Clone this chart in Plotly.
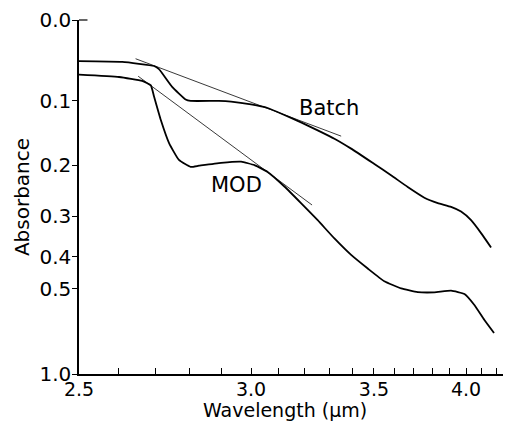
import numpy as np
import plotly.graph_objects as go

# ---- data (wavelength in um, absorbance) ----
batch_wl = [2.50, 2.609, 2.696, 2.710, 2.748, 2.788, 2.803, 2.892, 2.932, 3.000, 3.059, 3.121,
            3.185, 3.252, 3.322, 3.395, 3.502, 3.583, 3.668, 3.757, 3.832, 3.909,
            3.969, 4.031, 4.095, 4.161]
batch_abs = [0.048, 0.049, 0.054, 0.058, 0.081, 0.098, 0.100, 0.100, 0.101, 0.105, 0.110, 0.120,
             0.131, 0.143, 0.156, 0.172, 0.198, 0.218, 0.240, 0.261, 0.272, 0.280,
             0.290, 0.309, 0.339, 0.375]

mod_wl = [2.50, 2.601, 2.663, 2.687, 2.696, 2.715, 2.739, 2.768, 2.803, 2.829, 2.899, 2.966,
          3.012, 3.059, 3.121, 3.185, 3.252, 3.322, 3.395, 3.471, 3.550, 3.634, 3.721,
          3.813, 3.909, 3.990, 4.052, 4.117, 4.181]
mod_abs = [0.065, 0.068, 0.073, 0.079, 0.094, 0.127, 0.163, 0.191, 0.203, 0.201, 0.196, 0.194,
           0.200, 0.212, 0.239, 0.272, 0.309, 0.352, 0.395, 0.434, 0.474, 0.498, 0.511,
           0.512, 0.506, 0.518, 0.560, 0.625, 0.690]

# tangent (baseline) lines: endpoints
batch_tan_wl = [2.645, 3.351]
batch_tan_abs = [0.045, 0.152]
mod_tan_wl = [2.652, 3.229]
mod_tan_abs = [0.067, 0.276]

x_tick_wl = [round(2.5 + 0.1 * i, 1) for i in range(18)]
x_tick_labels = ["2.5", "3.0", "3.5", "4.0"]
y_tick_abs = [0.0, 0.1, 0.2, 0.3, 0.4, 0.5, 1.0]
y_tick_labels = ["0.0", "0.1", "0.2", "0.3", "0.4", "0.5", "1.0"]

labels = ["Batch", "MOD"]
label_wl = [3.30, 2.95]
label_abs = [0.110, 0.236]


# axis transforms: x linear in wavenumber, y linear in transmittance
def wn(wl):
    return 10000.0 / np.asarray(wl, dtype=float)


def tr(a):
    return 10.0 ** (-np.asarray(a, dtype=float))


FONT = "DejaVu Sans"
fig = go.Figure()

fig.add_trace(go.Scatter(x=wn(batch_tan_wl), y=tr(batch_tan_abs), mode="lines",
                         line=dict(color="#222", width=0.9), showlegend=False))
fig.add_trace(go.Scatter(x=wn(mod_tan_wl), y=tr(mod_tan_abs), mode="lines",
                         line=dict(color="#222", width=0.9), showlegend=False))
fig.add_trace(go.Scatter(x=wn(batch_wl), y=tr(batch_abs), mode="lines", name="Batch",
                         line=dict(color="black", width=1.8, shape="spline", smoothing=0.4),
                         showlegend=False))
fig.add_trace(go.Scatter(x=wn(mod_wl), y=tr(mod_abs), mode="lines", name="MOD",
                         line=dict(color="black", width=1.8, shape="spline", smoothing=0.4),
                         showlegend=False))

for t, lw, la in zip(labels, label_wl, label_abs):
    fig.add_annotation(x=float(wn([lw])[0]), y=float(tr([la])[0]), text=t, showarrow=False,
                       font=dict(family=FONT, size=21, color="black"))

# x-axis title placed as paper annotation
fig.add_annotation(x=0.486, y=-0.102, xref="paper", yref="paper", text="Wavelength (μm)",
                   showarrow=False, xanchor="center", yanchor="middle",
                   font=dict(family=FONT, size=19, color="black"))

# small rightward tick at the top of the y axis
fig.add_shape(type="line", xref="paper", yref="paper", x0=0, x1=0.02, y0=1, y1=1,
              line=dict(color="black", width=1.2))

xt_text = [(f"{v:.1f}" if f"{v:.1f}" in x_tick_labels else "") for v in x_tick_wl]

fig.update_xaxes(range=[4000, 2357], tickmode="array", tickvals=list(wn(x_tick_wl)),
                 ticktext=xt_text, ticks="inside", ticklen=6, tickwidth=1.2, tickcolor="black",
                 showline=True, linecolor="black", linewidth=1.5, showgrid=False, zeroline=False,
                 automargin=False, ticklabelstandoff=-3,
                 tickfont=dict(family=FONT, size=19, color="black"))
fig.update_yaxes(range=[0.1, 1.0], tickmode="array", tickvals=list(tr(y_tick_abs)),
                 ticktext=y_tick_labels, ticks="outside", ticklen=5, tickwidth=1.2,
                 tickcolor="black", showline=True, linecolor="black", linewidth=1.5,
                 showgrid=False, zeroline=False, ticklabelstandoff=-3, automargin=False,
                 tickfont=dict(family=FONT, size=20, color="black"),
                 title=dict(text="Absorbance", font=dict(family=FONT, size=20, color="black"),
                            standoff=4))

fig.update_layout(width=507, height=429, margin=dict(l=79, r=4, t=20, b=55),
                  plot_bgcolor="white", paper_bgcolor="white", showlegend=False)

fig.write_html("out.html", config={"displayModeBar": False},
               post_script="document.body.style.margin='0';document.body.style.overflow='hidden';")
